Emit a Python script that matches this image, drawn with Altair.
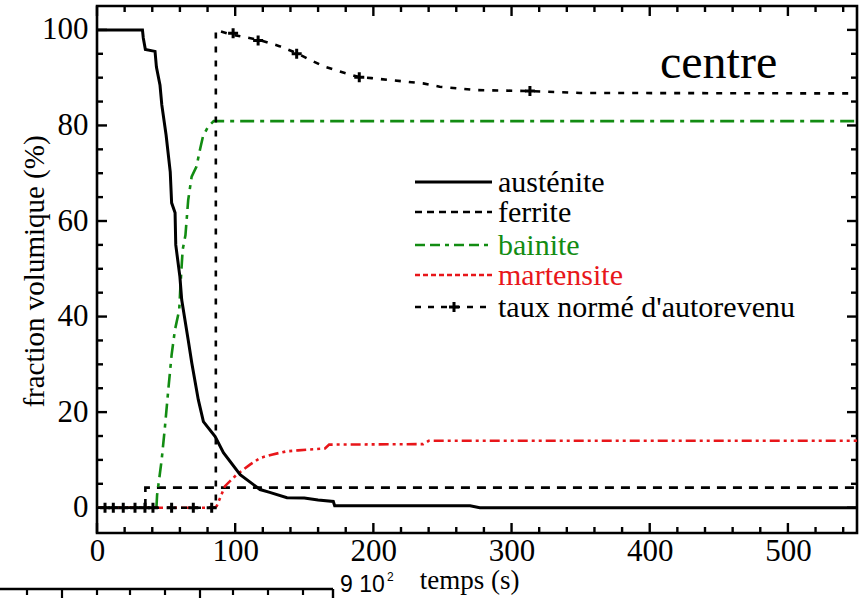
import altair as alt
import pandas as pd

# ---- series (time in s, fraction in %) ----
aust_t = [0, 32.9, 33.5, 35, 42, 43, 45.6, 46.9, 50, 53, 54, 56.5, 57, 60, 61.3, 66, 68.6,
          73.3, 77, 85.5, 91.5, 103.6, 118, 125, 137.5, 150, 160, 171, 172, 270, 277, 550]
aust_v = [100, 100, 98.3, 95.9, 95.5, 92.2, 88.4, 84.3, 78, 70.3, 63.8, 61.7, 55, 48.3, 43.5,
          35.1, 30.3, 22.6, 18, 14.9, 11.5, 6.9, 3.8, 3.2, 2.1, 2.0, 1.6, 1.3, 0.4, 0.4, 0, 0]

ferr_t = [0, 35, 35, 550]
ferr_v = [0, 0, 4.2, 4.2]

bain_t = [0, 43, 43.5, 46.8, 49.2, 51.6, 54, 56.4, 59.5, 60.5, 62, 64, 66, 68.5, 72,
          74.5, 76.7, 80.5, 84.5, 550]
bain_v = [0, 0, 2.7, 10, 17, 24.7, 32, 37.2, 41.4, 47, 54, 57, 64.4, 69.3, 71.4,
          74.9, 77.7, 79.8, 80.9, 80.9]

mart_t = [0, 85, 86.6, 92.6, 101, 110.7, 118, 126.4, 137.3, 145.5, 165, 168, 236, 240, 550]
mart_v = [0, 0, 0.3, 4.5, 6.9, 9.0, 10.4, 11.1, 11.8, 12.0, 12.4, 13.2, 13.3, 14.0, 14.0]

taux_t = [0, 86, 86, 97.5, 117.4, 132, 145.7, 151.7, 163.7, 175.8, 189.8, 198.7, 212,
          236, 248, 274.7, 313.3, 349.5, 550]
taux_v = [0, 0, 100, 99.0, 97.9, 96.6, 95.0, 94.1, 92.4, 91.3, 90.1, 89.9, 89.5,
          88.8, 88.1, 87.4, 87.2, 86.8, 86.7]

# crosses placed along the "taux normé d'autorevenu" curve
cross_t = [5.8, 11.8, 19, 27.5, 34.7, 40.5, 54, 69.7, 83, 98.5, 116.6, 144.5, 189.8, 313.3]
cross_v = [0, 0, 0, 0, 0, 0, 0, 0, 0, 99.3, 97.8, 95.0, 90.1, 87.2]

x_ticks = list(range(0, 551, 20))
y_ticks = list(range(0, 101, 5))
x_labels = [0, 100, 200, 300, 400, 500]
y_labels = [0, 20, 40, 60, 80, 100]

legend_names = ["austénite", "ferrite", "bainite", "martensite", "taux  normé  d'autorevenu"]

GREEN = "#128c12"
RED = "#e8161a"
SERIF = "Liberation Serif"
W, H = 760, 527

xs = alt.Scale(domain=[0, 550], nice=False, zero=False)
ys = alt.Scale(domain=[-5.3, 105], nice=False, zero=False)

XAX = alt.Axis(
    values=x_labels, ticks=False, domain=False, grid=False, labelFont=SERIF,
    labelFontSize=31, labelColor="black", labelPadding=3, labelFlush=False,
    title="temps (s)", titleFont=SERIF, titleFontSize=27, titleFontWeight="normal",
    titleColor="black", titleX=372, titleY=55, titleBaseline="alphabetic")
YAX = alt.Axis(
    values=y_labels, ticks=False, domain=False, grid=False, labelFont=SERIF,
    labelFontSize=31, labelColor="black", labelPadding=9,
    title="fraction  volumique  (%)", titleFont=SERIF, titleFontSize=29,
    titleFontWeight="normal", titleColor="black", titleX=-54, titleY=265,
    titleBaseline="alphabetic", titleAngle=-90)

X = alt.X("t:Q", scale=xs, axis=XAX)
Y = alt.Y("v:Q", scale=ys, axis=YAX)

CROSS = "M-1,0L1,0M0,-1L0,1"


def curve(t, v, color, dash, width=2.6):
    df = pd.DataFrame({"t": t, "v": v, "i": range(len(t))})
    kw = dict(color=color, strokeWidth=width)
    if dash:
        kw["strokeDash"] = dash
    return alt.Chart(df).mark_line(**kw).encode(x=X, y=Y, order="i:Q")


one = pd.DataFrame({"k": [0]})

xt = pd.DataFrame({"t": x_ticks})
xt["major"] = xt["t"] % 100 == 0
yt = pd.DataFrame({"v": y_ticks})
yt["major"] = yt["v"] % 20 == 0


def xtick_layers():
    out = []
    for major, ln in [(True, 10), (False, 6)]:
        d = xt[xt["major"] == major]
        base = alt.Chart(d).mark_rule(color="black", strokeWidth=2.4)
        out.append(base.encode(x=X, y=alt.value(H), y2=alt.value(H - ln)))
        out.append(base.encode(x=X, y=alt.value(0), y2=alt.value(ln)))
    return out


def ytick_layers():
    out = []
    for major, ln in [(True, 10), (False, 6)]:
        d = yt[yt["major"] == major]
        base = alt.Chart(d).mark_rule(color="black", strokeWidth=2.4)
        out.append(base.encode(y=Y, x=alt.value(0), x2=alt.value(ln)))
        out.append(base.encode(y=Y, x=alt.value(W), x2=alt.value(W - ln)))
    return out


lines = [
    curve(ferr_t, ferr_v, "black", [9, 7], 2.6),
    curve(bain_t, bain_v, GREEN, [14, 6, 4, 6], 2.6),
    curve(mart_t, mart_v, RED, [10, 4, 3, 4, 3, 4], 2.6),
    curve(taux_t, taux_v, "black", [6, 8], 2.6),
    curve(aust_t, aust_v, "black", None, 3.0),
]

crosses = alt.Chart(pd.DataFrame({"t": cross_t, "v": cross_v})).mark_point(
    shape=CROSS, size=100, filled=False, stroke="black", strokeWidth=3, opacity=1
).encode(x=X, y=Y)

# legend, drawn by hand inside the plot area
leg_rows = [176, 206, 239, 269, 301]
leg_style = [("black", None, 3.0), ("black", [7, 5], 2.6), (GREEN, [10, 5, 10, 5, 4, 5], 2.6),
             (RED, [5, 3], 2.6), ("black", [6, 7], 2.6)]
legend = []
for name, yy, (col, dash, wd) in zip(legend_names, leg_rows, leg_style):
    kw = dict(color=col, strokeWidth=wd)
    if dash:
        kw["strokeDash"] = dash
    legend.append(alt.Chart(one).mark_rule(**kw).encode(
        x=alt.value(318), x2=alt.value(395), y=alt.value(yy)))
    legend.append(alt.Chart(one).mark_text(
        text=name, font=SERIF, fontSize=30, color=col, align="left", baseline="alphabetic"
    ).encode(x=alt.value(401), y=alt.value(yy + 10)))
legend.append(alt.Chart(one).mark_point(
    shape=CROSS, size=100, filled=False, stroke="black", strokeWidth=3, opacity=1
).encode(x=alt.value(357), y=alt.value(leg_rows[-1])))

centre = alt.Chart(one).mark_text(
    text="centre", font=SERIF, fontSize=48, color="black", align="left", baseline="alphabetic"
).encode(x=alt.value(563), y=alt.value(72))

# edge of the neighbouring panel below
below = [
    alt.Chart(one).mark_rule(color="black", strokeWidth=2.4).encode(
        x=alt.value(-97), x2=alt.value(236), y=alt.value(583)),
    alt.Chart(one).mark_rule(color="black", strokeWidth=2.4).encode(
        x=alt.value(236), y=alt.value(583), y2=alt.value(600)),
    alt.Chart(one).mark_text(text="9 10", font="Liberation Sans", fontSize=23, color="black",
                             align="left", baseline="alphabetic").encode(
        x=alt.value(243), y=alt.value(586)),
    alt.Chart(one).mark_text(text="2", font="Liberation Sans", fontSize=12, color="black",
                             align="left", baseline="alphabetic").encode(
        x=alt.value(290), y=alt.value(575)),
]
for p, ln in zip([-70, -35, 0, 33, 68, 103, 136, 171, 206], [6, 9, 6, 6, 6, 9, 6, 6, 6]):
    below.append(alt.Chart(one).mark_rule(color="black", strokeWidth=2.2).encode(
        x=alt.value(p), y=alt.value(583), y2=alt.value(583 + ln)))

chart = alt.layer(
    *lines, crosses, *xtick_layers(), *ytick_layers(), *legend, centre, *below
).properties(
    width=W, height=H,
    padding={"left": 97, "top": 6, "right": 4, "bottom": 65},
    autosize=alt.AutoSizeParams(type="none"),
    background="white",
).configure_view(stroke="black", strokeWidth=2.6)

chart.save("out.html", embed_options={"renderer": "svg", "actions": False})
